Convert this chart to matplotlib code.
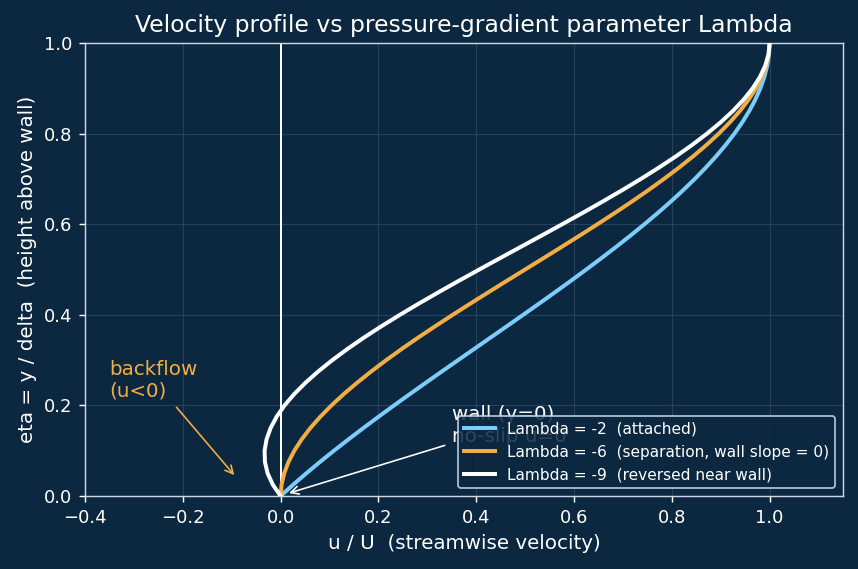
import numpy as np
import matplotlib.pyplot as plt

# data (eta vs u/U for three Lambda values)
eta = [0, 0.025, 0.05, 0.075, 0.1, 0.125, 0.15, 0.175, 0.2, 0.225, 0.25, 0.275,
       0.3, 0.325, 0.35, 0.375, 0.4, 0.425, 0.45, 0.475, 0.5, 0.525, 0.55, 0.575,
       0.6, 0.625, 0.65, 0.675, 0.7, 0.725, 0.75, 0.775, 0.8, 0.825, 0.85, 0.875,
       0.9, 0.925, 0.95, 0.975, 1.0]
u_lam2 = [0, 0.0256, 0.0524, 0.0802, 0.109, 0.1387, 0.1691, 0.2003, 0.232, 0.2642,
          0.2969, 0.3298, 0.363, 0.3963, 0.4296, 0.4629, 0.496, 0.5289, 0.5614, 0.5935,
          0.625, 0.6559, 0.6861, 0.7155, 0.744, 0.7715, 0.7979, 0.8231, 0.847, 0.8695,
          0.8906, 0.9101, 0.928, 0.9441, 0.9584, 0.9707, 0.981, 0.9892, 0.9951, 0.9988, 1.0]
u_lam6 = [0, 0.0019, 0.0073, 0.0160, 0.028, 0.0430, 0.0607, 0.0812, 0.104, 0.1291,
          0.1563, 0.1853, 0.216, 0.2482, 0.2817, 0.3164, 0.352, 0.3883, 0.4253, 0.4625,
          0.5, 0.5375, 0.5748, 0.6117, 0.648, 0.6836, 0.7183, 0.7518, 0.784, 0.8147,
          0.8438, 0.8709, 0.896, 0.9188, 0.9393, 0.9570, 0.972, 0.9840, 0.9928, 0.9982, 1.0]
u_lam9 = [0, -0.0160, -0.0266, -0.0321, -0.0328, -0.0288, -0.0205, -0.0082, 0.008, 0.0277,
          0.0508, 0.0769, 0.1058, 0.1372, 0.1708, 0.2065, 0.244, 0.2830, 0.3232, 0.3643,
          0.4063, 0.4486, 0.4912, 0.5338, 0.576, 0.6177, 0.6585, 0.6983, 0.7368, 0.7736,
          0.8086, 0.8415, 0.872, 0.8999, 0.9249, 0.9468, 0.9653, 0.9801, 0.9910, 0.9977, 1.0]
labels = ['Lambda = -2  (attached)',
          'Lambda = -6  (separation, wall slope = 0)',
          'Lambda = -9  (reversed near wall)']

bg = '#0c2740'
fg = 'white'
col_blue = '#7dcdfb'
col_orange = '#f2ae44'

fig = plt.figure(figsize=(6.6, 4.377), dpi=130, facecolor=bg)
ax = fig.add_axes([0.0991, 0.1283, 0.8834, 0.7961], facecolor=bg)

ax.grid(True, color='#2a4a66', linewidth=0.6, alpha=0.8)
ax.set_axisbelow(True)
ax.axvline(0, color=fg, linewidth=1.1, zorder=1)

ax.plot(u_lam2, eta, color=col_blue, linewidth=2.2, label=labels[0], zorder=3)
ax.plot(u_lam6, eta, color=col_orange, linewidth=2.2, label=labels[1], zorder=3)
ax.plot(u_lam9, eta, color=fg, linewidth=2.2, label=labels[2], zorder=3)

ax.set_xlim(-0.4, 1.15)
ax.set_ylim(0, 1.0)

ax.annotate('backflow\n(u<0)', xy=(-0.09, 0.04), xytext=(-0.35, 0.21),
            color=col_orange, fontsize=11, ha='left', va='bottom',
            arrowprops=dict(arrowstyle='->', color=col_orange, lw=0.9))
ax.annotate('wall (y=0)\nno-slip u=0', xy=(0.01, 0.004), xytext=(0.35, 0.11),
            color=fg, fontsize=11, ha='left', va='bottom',
            arrowprops=dict(arrowstyle='->', color=fg, lw=0.9))

leg = ax.legend(loc='lower right', fontsize=8.5, facecolor=bg, edgecolor='#c8d8e8',
                framealpha=0.85, labelcolor=fg)
leg.set_zorder(5)

ax.set_title('Velocity profile vs pressure-gradient parameter Lambda', color=fg, fontsize=13)
ax.set_xlabel('u / U  (streamwise velocity)', color=fg, fontsize=11)
ax.set_ylabel('eta = y / delta  (height above wall)', color=fg, fontsize=11)
ax.tick_params(colors=fg, labelsize=10)
for s in ax.spines.values():
    s.set_color('#c8d8e8')

plt.savefig('out.png', dpi=130, facecolor=bg)
